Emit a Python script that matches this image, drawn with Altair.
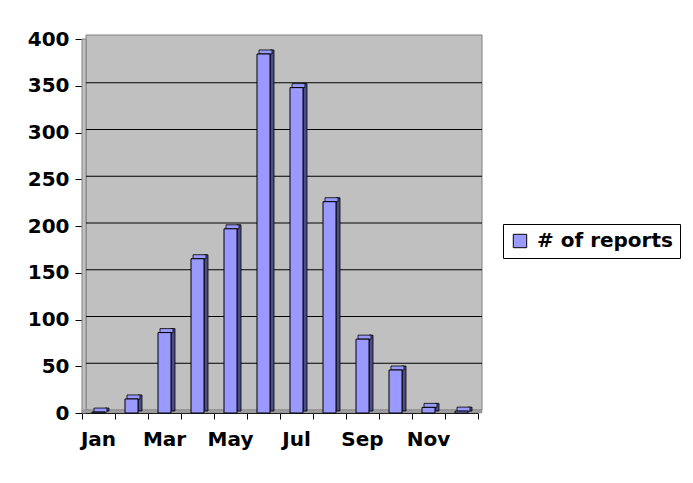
import altair as alt
import pandas as pd

months = ["Jan", "Feb", "Mar", "Apr", "May", "Jun", "Jul", "Aug", "Sep", "Oct", "Nov", "Dec"]
reports = [1, 15, 86, 165, 197, 384, 348, 226, 79, 46, 6, 2]
series_name = "# of reports"
grid_values = [50, 100, 150, 200, 250, 300, 350]
y_ticks = [0, 50, 100, 150, 200, 250, 300, 350, 400]
shown_labels = ["Jan", "Mar", "May", "Jul", "Sep", "Nov"]

df = pd.DataFrame({"month": months, "value": reports, "series": [series_name] * len(months)})
grid_df = pd.DataFrame({"g": grid_values})

FONT = "DejaVu Sans"
W, H = 396, 374

label_expr = "indexof(" + str(shown_labels).replace('"', "'") + ", datum.value) >= 0 ? datum.value : ''"

x_axis = alt.Axis(labelAngle=0, labelExpr=label_expr, tickBand="extent",
                  labelOffset=-0.5, tickSize=6, tickColor="black", domainColor="black",
                  labelFont=FONT, labelFontSize=20, labelFontWeight="bold",
                  labelColor="black", labelPadding=10, grid=False)
y_axis = alt.Axis(values=y_ticks, tickSize=7, tickColor="black", domainColor="black",
                  labelFont=FONT, labelFontSize=20, labelFontWeight="bold",
                  labelColor="black", labelPadding=6, grid=False)

x_scale = alt.Scale(paddingInner=0.0, paddingOuter=0.0)
y_scale = alt.Scale(domain=[0, 400], nice=False)

def x_enc():
    return alt.X("month:N", sort=months, title=None, scale=x_scale, axis=x_axis)

def y_enc(field="value:Q"):
    return alt.Y(field, scale=y_scale, title=None, axis=y_axis)

base = alt.Chart(df)
one = pd.DataFrame({"a": [0]})

wall = alt.Chart(one).mark_rect(
    fill="#C0C0C0", stroke="#808080", strokeWidth=1
).encode(x=alt.value(4), x2=alt.value(W + 4), y=alt.value(-4), y2=alt.value(H - 3))

side_wall = alt.Chart(one).mark_rect(
    fill="#C0C0C0", stroke="#808080", strokeWidth=1
).encode(x=alt.value(0), x2=alt.value(4), y=alt.value(0), y2=alt.value(H))

floor = alt.Chart(one).mark_rect(
    fill="#A0A0A0", stroke="#808080", strokeWidth=0.5
).encode(x=alt.value(0), x2=alt.value(W + 4), y=alt.value(H - 3), y2=alt.value(H))

grid = alt.Chart(grid_df).mark_rule(color="black", strokeWidth=1, yOffset=-3).encode(
    x=alt.value(4), x2=alt.value(W + 4),
    y=y_enc("g:Q")
)

side = base.mark_bar(color="#4D4D86", stroke="black", strokeWidth=0.8,
                     size=4, xOffset=8.5, yOffset=-4, y2Offset=-2).encode(
    x=x_enc(), y=y_enc(), y2=alt.datum(0)
)

top = base.mark_bar(color="#9999FF", stroke="black", strokeWidth=0.8,
                    size=13, xOffset=2, yOffset=-4, y2Offset=0).encode(
    x=x_enc(), y=y_enc(), y2="value:Q"
)

front = base.mark_bar(stroke="black", strokeWidth=1, size=13).encode(
    x=x_enc(),
    y=y_enc(),
    color=alt.Color("series:N", scale=alt.Scale(range=["#9999FF"]),
                    legend=alt.Legend(title=None, orient="none", legendX=421, legendY=185,
                                      strokeColor="black", fillColor="white", padding=7,
                                      symbolType="square", symbolSize=180,
                                      symbolStrokeColor="black", symbolStrokeWidth=1,
                                      symbolOpacity=1, labelFont=FONT, labelFontSize=20,
                                      labelFontWeight="bold", labelColor="black",
                                      labelOffset=7, cornerRadius=0))
)

chart = alt.layer(wall, side_wall, floor, grid, side, top, front).properties(
    width=W, height=H,
    autosize=alt.AutoSizeParams(type="none"),
    padding={"left": 74, "top": 31, "right": 207, "bottom": 55},
    background="white"
).configure_view(stroke=None)

chart.save("out.html", embed_options={"renderer": "svg", "actions": False})
